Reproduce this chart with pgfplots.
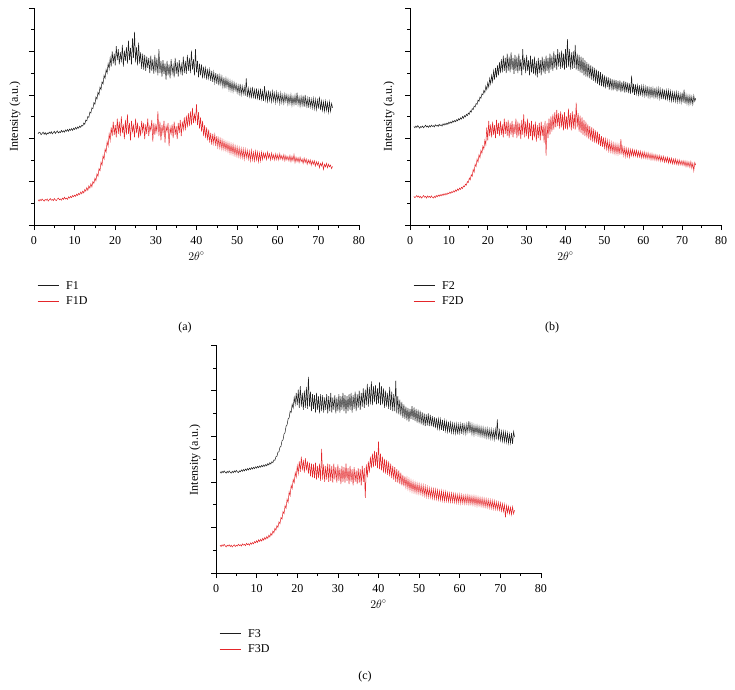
\documentclass[border=0pt]{standalone}
\usepackage{pgfplots}
\pgfplotsset{compat=1.18}
\usepackage{pgfplotstable}
\usepackage{fontspec}
\setmainfont{Liberation Serif}
\definecolor{myred}{RGB}{228,38,42}
\definecolor{myblack}{RGB}{30,30,30}

\pgfplotstableread{
x F1 F1D
1.00 2.10 0.58
1.25 2.14 0.55
1.50 2.13 0.59
1.75 2.08 0.56
2.00 2.11 0.60
2.25 2.14 0.57
2.50 2.09 0.55
2.75 2.13 0.59
3.00 2.08 0.57
3.25 2.12 0.60
3.50 2.10 0.55
3.75 2.14 0.58
4.00 2.11 0.61
4.25 2.15 0.57
4.50 2.10 0.59
4.75 2.13 0.56
5.00 2.16 0.61
5.25 2.11 0.58
5.50 2.14 0.56
5.75 2.17 0.60
6.00 2.12 0.62
6.25 2.15 0.58
6.50 2.13 0.60
6.75 2.18 0.57
7.00 2.14 0.62
7.25 2.17 0.59
7.50 2.14 0.64
7.75 2.19 0.60
8.00 2.16 0.62
8.25 2.20 0.59
8.50 2.16 0.65
8.75 2.21 0.62
9.00 2.18 0.66
9.25 2.22 0.63
9.50 2.18 0.68
9.75 2.23 0.65
10.00 2.20 0.69
10.25 2.25 0.66
10.50 2.21 0.71
10.75 2.26 0.68
11.00 2.23 0.73
11.25 2.28 0.70
11.50 2.25 0.76
11.75 2.30 0.72
12.00 2.28 0.78
12.25 2.35 0.74
12.50 2.32 0.82
12.75 2.42 0.78
13.00 2.40 0.86
13.25 2.50 0.80
13.50 2.48 0.90
13.75 2.60 0.85
14.00 2.58 0.95
14.25 2.70 0.88
14.50 2.68 1.00
14.75 2.82 0.96
15.00 2.78 1.08
15.25 2.95 1.02
15.50 2.90 1.18
15.75 3.06 1.12
16.00 3.00 1.30
16.25 3.18 1.25
16.50 3.12 1.45
16.75 3.30 1.38
17.00 3.25 1.60
17.25 3.45 1.52
17.50 3.38 1.75
17.75 3.58 1.68
18.00 3.50 1.92
18.25 3.72 1.82
18.50 3.60 2.10
18.75 3.85 1.95
19.00 3.65 2.25
19.25 4.00 2.05
19.50 3.72 2.38
19.75 3.95 2.08
20.00 3.68 2.30
20.25 4.12 2.02
20.50 3.80 2.45
20.75 4.05 2.10
21.00 3.70 2.38
21.25 3.98 2.05
21.50 3.75 2.50
21.75 4.15 2.12
22.00 3.65 2.32
22.25 4.02 1.98
22.50 3.78 2.42
22.75 4.10 2.08
23.00 3.72 2.55
23.25 4.25 2.10
23.50 3.80 2.35
23.75 4.08 1.95
24.00 3.70 2.40
24.25 4.30 2.15
24.50 3.85 2.30
24.75 4.45 2.02
25.00 3.75 2.45
25.25 4.10 2.12
25.50 3.68 2.36
25.75 4.20 2.00
26.00 3.72 2.28
26.25 3.98 2.05
26.50 3.60 2.40
26.75 3.95 2.15
27.00 3.58 2.35
27.25 3.92 1.98
27.50 3.55 2.32
27.75 3.88 2.10
28.00 3.62 2.45
28.25 3.85 2.05
28.50 3.50 2.28
28.75 3.90 2.18
29.00 3.55 2.42
29.25 3.82 1.92
29.50 3.48 2.35
29.75 3.92 2.08
30.00 3.52 2.30
30.25 3.85 2.15
30.50 3.45 2.62
30.75 4.05 2.05
31.00 3.50 2.38
31.25 3.78 1.95
31.50 3.42 2.30
31.75 3.80 2.12
32.00 3.48 2.40
32.25 3.72 1.90
32.50 3.35 2.28
32.75 3.78 2.15
33.00 3.45 2.35
33.25 3.70 1.82
33.50 3.38 2.25
33.75 3.82 2.10
34.00 3.50 2.32
34.25 3.68 2.00
34.50 3.40 2.38
34.75 3.85 2.08
35.00 3.48 2.28
35.25 3.75 1.98
35.50 3.42 2.35
35.75 3.80 2.12
36.00 3.52 2.42
36.25 3.70 2.05
36.50 3.45 2.38
36.75 3.88 2.20
37.00 3.50 2.48
37.25 3.78 2.18
37.50 3.48 2.52
37.75 3.92 2.25
38.00 3.55 2.58
38.25 3.85 2.28
38.50 3.50 2.62
38.75 4.02 2.30
39.00 3.58 2.70
39.25 3.82 2.35
39.50 3.45 2.55
39.75 4.05 2.40
40.00 3.52 2.78
40.25 3.78 2.30
40.50 3.40 2.60
40.75 3.72 2.22
41.00 3.45 2.48
41.25 3.70 2.15
41.50 3.38 2.40
41.75 3.65 2.05
42.00 3.42 2.30
42.25 3.62 2.00
42.50 3.35 2.25
42.75 3.60 1.95
43.00 3.38 2.20
43.25 3.58 1.90
43.50 3.32 2.12
43.75 3.55 1.85
44.00 3.30 2.10
44.25 3.52 1.88
44.50 3.28 2.08
44.75 3.50 1.82
45.00 3.25 2.05
45.25 3.48 1.80
45.50 3.22 2.00
45.75 3.45 1.78
46.00 3.24 1.98
46.25 3.42 1.75
46.50 3.18 1.95
46.75 3.40 1.74
47.00 3.15 1.92
47.25 3.38 1.72
47.50 3.18 1.90
47.75 3.35 1.70
48.00 3.12 1.88
48.25 3.32 1.66
48.50 3.10 1.86
48.75 3.30 1.65
49.00 3.08 1.85
49.25 3.28 1.62
49.50 3.10 1.82
49.75 3.25 1.60
50.00 3.05 1.80
50.25 3.22 1.58
50.50 3.02 1.78
50.75 3.25 1.56
51.00 3.00 1.76
51.25 3.20 1.55
51.50 3.02 1.75
51.75 3.18 1.52
52.00 2.98 1.74
52.25 3.38 1.55
52.50 2.95 1.72
52.75 3.15 1.52
53.00 2.96 1.70
53.25 3.14 1.48
53.50 2.92 1.72
53.75 3.18 1.50
54.00 2.95 1.68
54.25 3.12 1.48
54.50 2.90 1.70
54.75 3.15 1.50
55.00 2.92 1.68
55.25 3.10 1.46
55.50 2.88 1.66
55.75 3.14 1.48
56.00 2.90 1.68
56.25 3.08 1.51
56.50 2.86 1.66
56.75 3.20 1.54
57.00 2.88 1.65
57.25 3.06 1.51
57.50 2.85 1.68
57.75 3.10 1.54
58.00 2.87 1.64
58.25 3.05 1.50
58.50 2.84 1.66
58.75 3.08 1.52
59.00 2.86 1.62
59.25 3.04 1.50
59.50 2.82 1.64
59.75 3.06 1.51
60.00 2.85 1.62
60.25 3.02 1.50
60.50 2.80 1.64
60.75 3.04 1.52
61.00 2.82 1.60
61.25 3.00 1.50
61.50 2.80 1.62
61.75 3.02 1.48
62.00 2.84 1.60
62.25 3.00 1.50
62.50 2.78 1.58
62.75 2.98 1.48
63.00 2.80 1.60
63.25 3.00 1.46
63.50 2.76 1.58
63.75 2.96 1.48
64.00 2.78 1.62
64.25 2.98 1.44
64.50 2.76 1.56
64.75 3.05 1.46
65.00 2.78 1.55
65.25 2.95 1.44
65.50 2.74 1.56
65.75 2.96 1.46
66.00 2.76 1.52
66.25 2.98 1.42
66.50 2.72 1.54
66.75 3.00 1.44
67.00 2.74 1.52
67.25 2.92 1.40
67.50 2.70 1.50
67.75 2.95 1.42
68.00 2.72 1.50
68.25 2.90 1.38
68.50 2.70 1.48
68.75 2.92 1.40
69.00 2.68 1.48
69.25 2.90 1.36
69.50 2.66 1.46
69.75 2.88 1.38
70.00 2.68 1.45
70.25 2.96 1.32
70.50 2.65 1.42
70.75 2.86 1.36
71.00 2.64 1.44
71.25 2.84 1.28
71.50 2.62 1.40
71.75 2.85 1.34
72.00 2.64 1.42
72.25 2.82 1.32
72.50 2.60 1.40
72.75 2.84 1.34
73.00 2.62 1.38
73.25 2.80 1.30
73.50 2.70 1.35
}\tableA

\pgfplotstableread{
x F2 F2D
1.00 2.27 0.66
1.25 2.24 0.63
1.50 2.28 0.65
1.75 2.25 0.68
2.00 2.29 0.64
2.25 2.26 0.67
2.50 2.23 0.63
2.75 2.27 0.66
3.00 2.25 0.62
3.25 2.28 0.65
3.50 2.24 0.68
3.75 2.27 0.64
4.00 2.30 0.66
4.25 2.26 0.62
4.50 2.28 0.67
4.75 2.25 0.64
5.00 2.29 0.66
5.25 2.26 0.63
5.50 2.30 0.67
5.75 2.27 0.64
6.00 2.29 0.62
6.25 2.26 0.66
6.50 2.31 0.63
6.75 2.28 0.68
7.00 2.30 0.65
7.25 2.27 0.69
7.50 2.32 0.66
7.75 2.29 0.70
8.00 2.31 0.67
8.25 2.28 0.71
8.50 2.33 0.68
8.75 2.30 0.72
9.00 2.34 0.69
9.25 2.31 0.73
9.50 2.35 0.70
9.75 2.32 0.74
10.00 2.37 0.72
10.25 2.34 0.76
10.50 2.38 0.73
10.75 2.35 0.77
11.00 2.40 0.75
11.25 2.37 0.79
11.50 2.41 0.76
11.75 2.38 0.81
12.00 2.43 0.78
12.25 2.40 0.83
12.50 2.45 0.80
12.75 2.42 0.85
13.00 2.47 0.82
13.25 2.44 0.87
13.50 2.50 0.84
13.75 2.46 0.90
14.00 2.52 0.88
14.25 2.49 0.94
14.50 2.55 0.92
14.75 2.52 1.00
15.00 2.58 0.98
15.25 2.55 1.08
15.50 2.63 1.04
15.75 2.60 1.16
16.00 2.68 1.12
16.25 2.66 1.28
16.50 2.74 1.22
16.75 2.72 1.40
17.00 2.80 1.35
17.25 2.78 1.52
17.50 2.88 1.45
17.75 2.85 1.62
18.00 2.95 1.55
18.25 2.92 1.72
18.50 3.02 1.65
18.75 3.00 1.82
19.00 3.10 1.75
19.25 3.05 1.95
19.50 3.20 1.85
19.75 3.12 2.25
20.00 3.28 1.95
20.25 3.18 2.40
20.50 3.38 2.05
20.75 3.25 2.32
21.00 3.45 2.02
21.25 3.30 2.38
21.50 3.55 2.08
21.75 3.35 2.30
22.00 3.62 2.00
22.25 3.40 2.42
22.50 3.68 2.10
22.75 3.45 2.35
23.00 3.75 2.05
23.25 3.50 2.40
23.50 3.82 2.08
23.75 3.52 2.32
24.00 3.90 2.02
24.25 3.55 2.45
24.50 3.85 2.10
24.75 3.50 2.38
25.00 3.95 2.05
25.25 3.55 2.42
25.50 3.88 2.00
25.75 3.52 2.35
26.00 3.98 2.08
26.25 3.58 2.40
26.50 3.85 2.02
26.75 3.48 2.32
27.00 3.92 2.10
27.25 3.55 2.45
27.50 3.88 2.00
27.75 3.50 2.38
28.00 3.95 2.05
28.25 3.55 2.35
28.50 3.82 1.98
28.75 3.45 2.42
29.00 4.05 2.08
29.25 3.58 2.55
29.50 3.85 2.02
29.75 3.50 2.38
30.00 3.92 2.05
30.25 3.55 2.45
30.50 3.80 1.98
30.75 3.45 2.35
31.00 3.90 2.05
31.25 3.52 2.40
31.50 3.82 1.95
31.75 3.48 2.32
32.00 3.88 2.02
32.25 3.45 2.38
32.50 3.78 1.92
32.75 3.40 2.30
33.00 3.85 2.00
33.25 3.50 2.35
33.50 3.80 1.95
33.75 3.45 2.38
34.00 3.88 2.05
34.25 3.52 2.30
34.50 3.82 1.90
34.75 3.48 2.40
35.00 3.90 1.60
35.25 3.55 2.35
35.50 3.85 2.00
35.75 3.50 2.45
36.00 3.95 2.08
36.25 3.58 2.50
36.50 3.90 2.15
36.75 3.55 2.55
37.00 4.00 2.20
37.25 3.62 2.60
37.50 3.92 2.25
37.75 3.58 2.65
38.00 4.05 2.28
38.25 3.65 2.58
38.50 3.98 2.22
38.75 3.60 2.62
39.00 4.02 2.25
39.25 3.62 2.55
39.50 3.95 2.18
39.75 3.58 2.60
40.00 4.05 2.22
40.25 3.62 2.50
40.50 4.28 2.20
40.75 3.65 2.68
41.00 4.05 2.25
41.25 3.58 2.58
41.50 3.98 2.18
41.75 3.60 2.62
42.00 4.00 2.22
42.25 3.62 2.55
42.50 4.15 2.20
42.75 3.58 2.82
43.00 3.95 2.25
43.25 3.55 2.58
43.50 3.92 2.15
43.75 3.52 2.52
44.00 3.88 2.12
44.25 3.50 2.48
44.50 3.85 2.08
44.75 3.45 2.42
45.00 3.80 2.05
45.25 3.42 2.38
45.50 3.75 2.02
45.75 3.40 2.32
46.00 3.72 1.98
46.25 3.38 2.28
46.50 3.68 1.95
46.75 3.35 2.25
47.00 3.65 1.92
47.25 3.32 2.22
47.50 3.62 1.90
47.75 3.28 2.18
48.00 3.58 1.88
48.25 3.25 2.15
48.50 3.55 1.85
48.75 3.22 2.10
49.00 3.52 1.82
49.25 3.20 2.05
49.50 3.48 1.80
49.75 3.18 2.02
50.00 3.45 1.78
50.25 3.15 1.98
50.50 3.42 1.75
50.75 3.18 1.95
51.00 3.40 1.72
51.25 3.12 1.92
51.50 3.38 1.70
51.75 3.15 1.90
52.00 3.36 1.68
52.25 3.10 1.88
52.50 3.35 1.66
52.75 3.12 1.86
53.00 3.34 1.65
53.25 3.08 1.85
53.50 3.32 1.64
53.75 3.10 1.84
54.00 3.33 1.62
54.25 3.06 1.98
54.50 3.30 1.62
54.75 3.08 1.80
55.00 3.32 1.60
55.25 3.05 1.78
55.50 3.30 1.58
55.75 3.06 1.76
56.00 3.28 1.58
56.25 3.04 1.75
56.50 3.26 1.56
56.75 3.02 1.74
57.00 3.44 1.60
57.25 3.04 1.74
57.50 3.25 1.59
57.75 3.00 1.72
58.00 3.24 1.59
58.25 3.02 1.72
58.50 3.22 1.57
58.75 3.00 1.70
59.00 3.22 1.57
59.25 2.98 1.70
59.50 3.20 1.55
59.75 3.00 1.68
60.00 3.20 1.55
60.25 2.98 1.68
60.50 3.18 1.54
60.75 2.96 1.66
61.00 3.20 1.53
61.25 2.96 1.66
61.50 3.16 1.53
61.75 2.95 1.64
62.00 3.18 1.51
62.25 2.94 1.64
62.50 3.15 1.51
62.75 2.95 1.62
63.00 3.16 1.50
63.25 2.92 1.62
63.50 3.14 1.49
63.75 2.94 1.60
64.00 3.15 1.49
64.25 2.92 1.60
64.50 3.12 1.47
64.75 2.90 1.58
65.00 3.14 1.47
65.25 2.90 1.58
65.50 3.12 1.45
65.75 2.88 1.56
66.00 3.10 1.45
66.25 2.90 1.56
66.50 3.10 1.43
66.75 2.88 1.54
67.00 3.08 1.43
67.25 2.86 1.54
67.50 3.06 1.41
67.75 2.86 1.52
68.00 3.05 1.41
68.25 2.85 1.52
68.50 3.06 1.40
68.75 2.84 1.50
69.00 3.04 1.39
69.25 2.84 1.50
69.50 3.02 1.39
69.75 2.82 1.48
70.00 3.05 1.38
70.25 2.82 1.48
70.50 3.12 1.37
70.75 2.80 1.47
71.00 3.00 1.35
71.25 2.80 1.46
71.50 2.98 1.35
71.75 2.78 1.45
72.00 2.98 1.33
72.25 2.80 1.46
72.50 2.96 1.31
72.75 2.78 1.42
73.00 2.98 1.25
73.25 2.85 1.44
73.50 2.92 1.38
}\tableB

\pgfplotstableread{
x F3 F3D
1.00 2.22 0.61
1.25 2.19 0.58
1.50 2.23 0.62
1.75 2.20 0.59
2.00 2.24 0.63
2.25 2.21 0.60
2.50 2.19 0.57
2.75 2.23 0.61
3.00 2.20 0.59
3.25 2.24 0.62
3.50 2.21 0.58
3.75 2.19 0.61
4.00 2.23 0.57
4.25 2.20 0.60
4.50 2.24 0.62
4.75 2.21 0.58
5.00 2.25 0.61
5.25 2.22 0.59
5.50 2.20 0.63
5.75 2.24 0.60
6.00 2.22 0.62
6.25 2.26 0.59
6.50 2.23 0.64
6.75 2.27 0.61
7.00 2.24 0.63
7.25 2.28 0.60
7.50 2.25 0.65
7.75 2.29 0.62
8.00 2.26 0.64
8.25 2.30 0.61
8.50 2.27 0.66
8.75 2.31 0.63
9.00 2.28 0.67
9.25 2.32 0.64
9.50 2.29 0.69
9.75 2.33 0.66
10.00 2.30 0.71
10.25 2.34 0.67
10.50 2.31 0.73
10.75 2.35 0.69
11.00 2.32 0.74
11.25 2.36 0.70
11.50 2.33 0.76
11.75 2.37 0.72
12.00 2.34 0.78
12.25 2.38 0.74
12.50 2.35 0.80
12.75 2.40 0.76
13.00 2.37 0.83
13.25 2.42 0.79
13.50 2.39 0.87
13.75 2.44 0.83
14.00 2.42 0.92
14.25 2.48 0.88
14.50 2.47 0.98
14.75 2.55 0.94
15.00 2.56 1.04
15.25 2.65 1.00
15.50 2.66 1.12
15.75 2.76 1.08
16.00 2.78 1.22
16.25 2.90 1.18
16.50 2.92 1.35
16.75 3.05 1.30
17.00 3.08 1.48
17.25 3.22 1.42
17.50 3.25 1.62
17.75 3.38 1.55
18.00 3.40 1.78
18.25 3.55 1.70
18.50 3.52 1.92
18.75 3.70 1.85
19.00 3.62 2.05
19.25 3.85 1.98
19.50 3.70 2.20
19.75 3.95 2.10
20.00 3.68 2.35
20.25 4.02 2.18
20.50 3.62 2.45
20.75 4.10 2.22
21.00 3.65 2.55
21.25 3.95 2.25
21.50 3.58 2.48
21.75 4.00 2.20
22.00 3.62 2.52
22.25 4.08 2.25
22.50 3.60 2.45
22.75 4.30 2.18
23.00 3.65 2.42
23.25 3.98 2.12
23.50 3.55 2.40
23.75 3.92 2.10
24.00 3.60 2.38
24.25 3.90 2.08
24.50 3.52 2.42
24.75 3.95 2.05
25.00 3.58 2.35
25.25 3.88 2.08
25.50 3.50 2.40
25.75 3.92 2.02
26.00 3.55 2.72
26.25 3.90 2.05
26.50 3.52 2.38
26.75 3.85 2.00
27.00 3.58 2.35
27.25 3.92 2.05
27.50 3.50 2.40
27.75 3.88 2.00
28.00 3.55 2.38
28.25 3.95 2.02
28.50 3.52 2.35
28.75 3.85 1.98
29.00 3.58 2.40
29.25 3.90 2.05
29.50 3.50 2.32
29.75 3.85 1.98
30.00 3.55 2.38
30.25 3.92 2.02
30.50 3.52 2.30
30.75 3.88 1.95
31.00 3.58 2.35
31.25 3.95 2.00
31.50 3.55 2.32
31.75 3.90 1.98
32.00 3.50 2.40
32.25 3.88 2.02
32.50 3.55 2.30
32.75 3.92 1.95
33.00 3.58 2.35
33.25 3.95 2.00
33.50 3.52 2.28
33.75 3.90 1.92
34.00 3.60 2.32
34.25 3.98 2.00
34.50 3.55 2.25
34.75 3.92 1.95
35.00 3.62 2.30
35.25 4.00 1.98
35.50 3.58 2.28
35.75 3.95 1.92
36.00 3.65 2.35
36.25 4.05 2.00
36.50 3.62 2.30
36.75 4.02 1.65
37.00 3.68 2.38
37.25 4.15 2.10
37.50 3.65 2.45
37.75 4.08 2.20
38.00 3.70 2.55
38.25 4.20 2.30
38.50 3.68 2.62
38.75 4.10 2.32
39.00 3.75 2.68
39.25 4.12 2.35
39.50 3.70 2.65
39.75 4.05 2.30
40.00 3.72 2.88
40.25 4.18 2.28
40.50 3.68 2.62
40.75 4.10 2.25
41.00 3.70 2.55
41.25 4.05 2.20
41.50 3.62 2.50
41.75 4.00 2.18
42.00 3.65 2.48
42.25 3.95 2.15
42.50 3.60 2.45
42.75 4.08 2.12
43.00 3.58 2.40
43.25 3.98 2.08
43.50 3.55 2.35
43.75 3.92 2.05
44.00 3.55 2.32
44.25 4.22 2.00
44.50 3.50 2.28
44.75 3.88 1.98
45.00 3.48 2.25
45.25 3.80 1.95
45.50 3.45 2.20
45.75 3.75 1.92
46.00 3.40 2.15
46.25 3.70 1.90
46.50 3.38 2.12
46.75 3.65 1.88
47.00 3.35 2.08
47.25 3.62 1.85
47.50 3.32 2.05
47.75 3.60 1.82
48.00 3.38 2.02
48.25 3.66 1.80
48.50 3.36 2.00
48.75 3.63 1.78
49.00 3.33 1.98
49.25 3.60 1.76
49.50 3.30 1.96
49.75 3.58 1.75
50.00 3.28 1.95
50.25 3.56 1.74
50.50 3.26 1.93
50.75 3.53 1.72
51.00 3.24 1.92
51.25 3.50 1.70
51.50 3.22 1.90
51.75 3.48 1.68
52.00 3.24 1.88
52.25 3.50 1.67
52.50 3.22 1.86
52.75 3.47 1.66
53.00 3.22 1.85
53.25 3.44 1.64
53.50 3.20 1.84
53.75 3.42 1.63
54.00 3.18 1.83
54.25 3.40 1.62
54.50 3.17 1.82
54.75 3.38 1.61
55.00 3.16 1.80
55.25 3.37 1.60
55.50 3.14 1.80
55.75 3.36 1.59
56.00 3.12 1.78
56.25 3.34 1.58
56.50 3.12 1.78
56.75 3.32 1.58
57.00 3.10 1.76
57.25 3.32 1.57
57.50 3.08 1.75
57.75 3.30 1.56
58.00 3.08 1.75
58.25 3.28 1.56
58.50 3.07 1.74
58.75 3.27 1.55
59.00 3.06 1.73
59.25 3.27 1.54
59.50 3.04 1.72
59.75 3.26 1.54
60.00 3.07 1.72
60.25 3.27 1.53
60.50 3.05 1.71
60.75 3.29 1.53
61.00 3.07 1.70
61.25 3.25 1.52
61.50 3.05 1.70
61.75 3.27 1.52
62.00 3.09 1.70
62.25 3.33 1.51
62.50 3.07 1.69
62.75 3.27 1.51
63.00 3.05 1.68
63.25 3.25 1.50
63.50 3.03 1.68
63.75 3.23 1.49
64.00 3.05 1.67
64.25 3.23 1.48
64.50 3.03 1.66
64.75 3.21 1.48
65.00 3.01 1.65
65.25 3.20 1.47
65.50 3.00 1.64
65.75 3.19 1.46
66.00 2.99 1.63
66.25 3.17 1.45
66.50 2.97 1.62
66.75 3.17 1.44
67.00 2.97 1.61
67.25 3.15 1.43
67.50 2.95 1.60
67.75 3.15 1.42
68.00 2.95 1.59
68.25 3.13 1.41
68.50 2.93 1.58
68.75 3.15 1.40
69.00 2.93 1.56
69.25 3.37 1.39
69.50 2.91 1.55
69.75 3.13 1.38
70.00 2.91 1.54
70.25 3.11 1.36
70.50 2.89 1.52
70.75 3.10 1.35
71.00 2.88 1.50
71.25 3.09 1.22
71.50 2.87 1.48
71.75 3.07 1.32
72.00 2.85 1.46
72.25 3.05 1.30
72.50 2.85 1.44
72.75 3.07 1.28
73.00 2.83 1.45
73.25 3.10 1.30
73.50 2.98 1.38
}\tableC

\pgfplotsset{
  xrdaxis/.style={
    scale only axis,
    anchor=south west,
    axis lines=left,
    axis line style={-, line width=0.7bp},
    xmin=0, xmax=80, ymin=0, ymax=5,
    xtick={0,10,...,80},
    minor x tick num=1,
    ytick={0,1,2,3,4,5},
    minor y tick num=1,
    yticklabels={},
    tick align=outside,
    major tick length=5bp,
    minor tick length=3bp,
    tick style={line width=0.6bp, black},
    font=\fontsize{12bp}{14bp}\selectfont,
    /pgf/number format/assume math mode=true,
    xticklabel style={font=\fontsize{12bp}{14bp}\selectfont, yshift=-3bp},
    xlabel={$2\theta^{\circ}$},
    xlabel style={at={(axis description cs:0.5,0)}, anchor=center, yshift=-31bp, font=\fontsize{12bp}{14bp}\selectfont},
    legend style={at={(axis description cs:0,0)}, anchor=north west, xshift=3bp, yshift=-54bp,
      draw=none, fill=none, inner sep=0pt, row sep=2bp, font=\fontsize{12bp}{14bp}\selectfont,
      /tikz/every odd column/.append style={column sep=5bp}},
    legend cell align=left,
    every axis plot/.append style={line width=0.5bp, mark=none},
  },
  blackline/.style={color=myblack,
    legend image code/.code={\draw[color=myblack, line width=1bp] (0bp,0bp) -- (21bp,0bp);}},
  redline/.style={color=myred,
    legend image code/.code={\draw[color=myred, line width=1bp] (0bp,0bp) -- (21bp,0bp);}},
}

\begin{document}
\begin{tikzpicture}
\path[use as bounding box] (0bp,0bp) rectangle (735bp,-690bp);

\begin{axis}[xrdaxis, at={(34bp,-225bp)}, width=325bp, height=217bp]
\addplot[blackline] table[x=x, y=F1] {\tableA};
\addplot[redline] table[x=x, y=F1D] {\tableA};
\legend{F1, F1D}
\end{axis}

\begin{axis}[xrdaxis, at={(410bp,-225bp)}, width=311bp, height=217bp]
\addplot[blackline] table[x=x, y=F2] {\tableB};
\addplot[redline] table[x=x, y=F2D] {\tableB};
\legend{F2, F2D}
\end{axis}

\begin{axis}[xrdaxis, at={(216bp,-573bp)}, width=325bp, height=228bp]
\addplot[blackline] table[x=x, y=F3] {\tableC};
\addplot[redline] table[x=x, y=F3D] {\tableC};
\legend{F3, F3D}
\end{axis}

\node[rotate=90, font=\fontsize{12bp}{14bp}\selectfont] at (15bp,-116.5bp) {Intensity (a.u.)};
\node[rotate=90, font=\fontsize{12bp}{14bp}\selectfont] at (389bp,-116.5bp) {Intensity (a.u.)};
\node[rotate=90, font=\fontsize{12bp}{14bp}\selectfont] at (195bp,-460bp) {Intensity (a.u.)};

\node[font=\fontsize{12bp}{14bp}\selectfont] at (185bp,-328bp) {(a)};
\node[font=\fontsize{12bp}{14bp}\selectfont] at (552bp,-328bp) {(b)};
\node[font=\fontsize{12bp}{14bp}\selectfont] at (365bp,-677bp) {(c)};
\end{tikzpicture}
\end{document}
